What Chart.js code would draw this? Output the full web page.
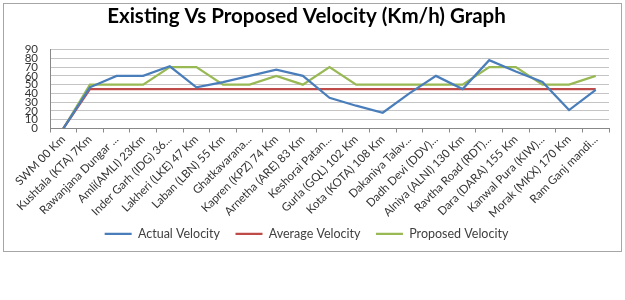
<!DOCTYPE html>
<html lang="en">
<head>
  <meta charset="UTF-8">
  <title>Existing Vs Proposed Velocity</title>
  <script src="https://cdn.jsdelivr.net/npm/chart.js"></script>
  <style>
    body { margin: 0; background: #fff; }
    .frame { position: absolute; left: 3px; top: 3px; width: 617px; height: 247px; border: 1px solid #a6a6a6; }
    .frame canvas { display: block; }
  </style>
</head>
<body>
  <div class="frame">
    <canvas id="velChart" width="617" height="247"></canvas>
  </div>

  <script>
    // stations along the section
    const stations = [
      'SWM 00 Km', 'Kushtala (KTA) 7Km', 'Rawanjana Dungar ...', 'Amli(AMLI) 23Km',
      'Inder Garh (IDG) 36...', 'Lakheri (LKE) 47 Km', 'Laban (LBN) 55 Km', 'Ghatkavarana...',
      'Kapren (KPZ) 74 Km', 'Arnetha (ARE) 83 Km', 'Keshorai Patan...', 'Gurla (GQL) 102 Km',
      'Kota (KOTA) 108 Km', 'Dakaniya Talav...', 'Dadh Devi (DDV)...', 'Alniya (ALNI) 130 Km',
      'Ravtha Road (RDT)...', 'Dara (DARA) 155 Km', 'Kanwal Pura (KIW)...', 'Morak (MKX) 170 Km',
      'Ram Ganj mandi...'
    ];
    const actualVelocity   = [0, 47, 60, 60, 71, 47, 53, 60, 67, 60, 35, 26, 18, 40, 60, 45, 78, 65, 53, 21, 44];
    const averageVelocity  = [0, 45, 45, 45, 45, 45, 45, 45, 45, 45, 45, 45, 45, 45, 45, 45, 45, 45, 45, 45, 45];
    const proposedVelocity = [0, 50, 50, 50, 70, 70, 50, 50, 60, 50, 70, 50, 50, 50, 50, 50, 70, 70, 50, 50, 60];
    const yTicks = [0, 10, 20, 30, 40, 50, 60, 70, 80, 90];

    const FONT = 'Lato, "Open Sans", sans-serif';

    function lineSet(label, data, color) {
      return { label, data, borderColor: color, backgroundColor: color,
               borderWidth: 2.25, pointRadius: 0, tension: 0, fill: false };
    }

    new Chart(document.getElementById('velChart'), {
      type: 'line',
      data: {
        labels: stations,
        datasets: [
          lineSet('Actual Velocity', actualVelocity, '#4a7ebb'),
          lineSet('Average Velocity', averageVelocity, '#be4b48'),
          lineSet('Proposed Velocity', proposedVelocity, '#98b954')
        ]
      },
      options: {
        responsive: false,
        animation: false,
        layout: { padding: { left: 0, right: 12, top: 0, bottom: 1 } },
        plugins: {
          title: {
            display: true,
            text: 'Existing Vs Proposed Velocity (Km/h) Graph',
            color: '#000',
            font: { family: FONT, size: 20.5, weight: 'bold' },
            padding: { top: 0, bottom: 21 }
          },
          legend: {
            position: 'bottom',
            labels: {
              usePointStyle: true, pointStyle: 'line', pointStyleWidth: 27,
              color: '#404040', font: { family: FONT, size: 12.5 }, padding: 6,
              // small padding keeps the legend low; extra room between items comes from spaces
              generateLabels(chart) {
                const items = Chart.defaults.plugins.legend.labels.generateLabels(chart);
                items.forEach((it, i) => { if (i < items.length - 1) it.text += '\u2002 '; });
                return items;
              }
            }
          },
          tooltip: { enabled: false }
        },
        scales: {
          x: {
            offset: true,
            grid: { display: true, drawOnChartArea: false, offset: true, tickLength: 4, color: '#888' },
            border: { color: '#888' },
            ticks: { maxRotation: 45, minRotation: 45, autoSkip: false, padding: 0,
                     color: '#333', font: { family: FONT, size: 11.5 } },
            afterFit: s => { s.height = 93; }
          },
          y: {
            min: 0, max: 90,
            afterBuildTicks: s => { s.ticks = yTicks.map(v => ({ value: v })); },
            grid: { color: '#c4c4c4', drawTicks: false },
            border: { color: '#888' },
            ticks: { autoSkip: false, padding: 12, color: '#333', font: { family: FONT, size: 11.5 } },
            afterFit: s => { s.width = 46; }
          }
        }
      }
    });
  </script>
</body>
</html>
